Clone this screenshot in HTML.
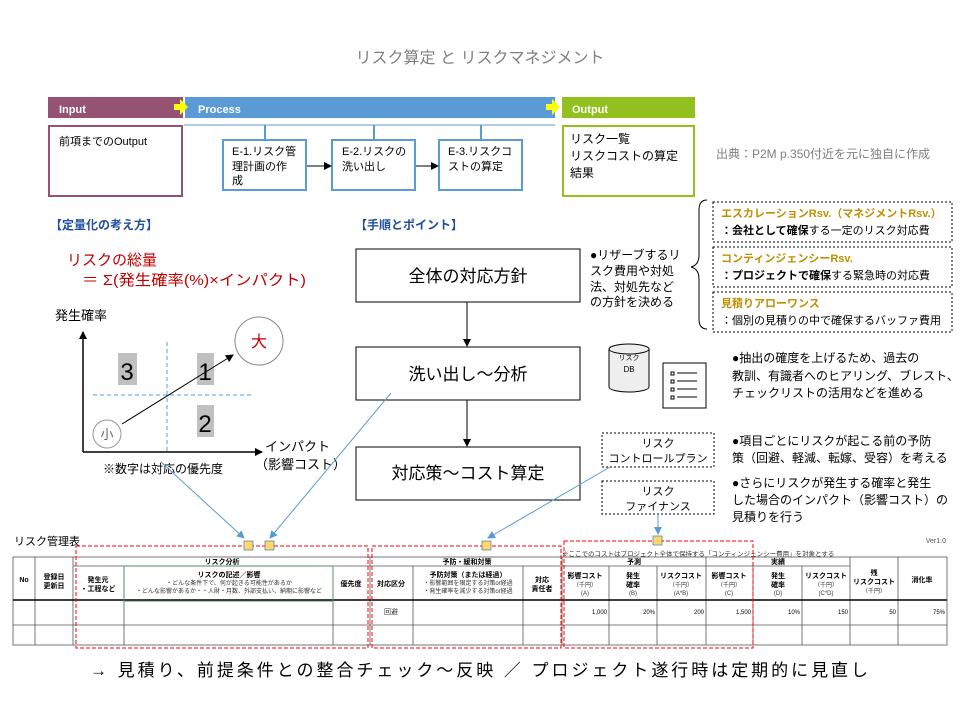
<!DOCTYPE html>
<html><head><meta charset="utf-8"><style>
body{margin:0;background:#fff}
svg{display:block;font-family:"Liberation Sans","Noto Sans CJK JP",sans-serif}
</style></head><body>
<svg width="960" height="720" viewBox="0 0 960 720" xmlns="http://www.w3.org/2000/svg">
<defs>
<marker id="ab" markerWidth="8" markerHeight="8" refX="7" refY="4" orient="auto" markerUnits="userSpaceOnUse"><path d="M0,0L8,4L0,8z" fill="#000"/></marker>
<marker id="abl" markerWidth="8" markerHeight="8" refX="7" refY="4" orient="auto" markerUnits="userSpaceOnUse"><path d="M0,0L8,4L0,8z" fill="#5b9bd5"/></marker>
</defs>
<text x="480" y="63" text-anchor="middle" font-size="16" fill="#7f7f7f">リスク算定 と リスクマネジメント</text>
<rect x="48" y="97" width="135" height="21" fill="#955273"/>
<rect x="185" y="97" width="370" height="21" fill="#5b9bd5"/>
<rect x="562" y="97" width="133" height="21" fill="#92c01f"/>
<text x="59" y="113" font-size="11" font-weight="bold" fill="#fff">Input</text>
<text x="198" y="113" font-size="11" font-weight="bold" fill="#fff">Process</text>
<text x="572" y="113" font-size="11" font-weight="bold" fill="#fff">Output</text>
<path d="M174,104h6v-5l8,8l-8,8v-5h-6z" fill="#ffff00"/>
<path d="M546,104h6v-5l8,8l-8,8v-5h-6z" fill="#ffff00"/>
<rect x="49" y="126" width="133" height="70" fill="none" stroke="#955273" stroke-width="2"/>
<text x="59" y="145" font-size="11">前項までのOutput</text>
<line x1="184" y1="125" x2="555" y2="125" stroke="#5b9bd5"/>
<line x1="265" y1="125" x2="265" y2="139" stroke="#5b9bd5" stroke-width="2"/>
<line x1="374" y1="125" x2="374" y2="139" stroke="#5b9bd5" stroke-width="2"/>
<line x1="481" y1="125" x2="481" y2="139" stroke="#5b9bd5" stroke-width="2"/>
<g fill="#fff" stroke="#5b9bd5" stroke-width="2">
<rect x="223" y="140" width="83" height="50"/><rect x="332" y="140" width="83" height="50"/><rect x="439" y="140" width="83" height="50"/></g>
<g font-size="11"><text x="232" y="155">E-1.リスク管</text><text x="232" y="170">理計画の作</text><text x="232" y="184">成</text>
<text x="342" y="155">E-2.リスクの</text><text x="342" y="170">洗い出し</text>
<text x="448" y="155">E-3.リスクコ</text><text x="448" y="170">ストの算定</text></g>
<line x1="307" y1="166" x2="331" y2="166" stroke="#000" marker-end="url(#ab)"/>
<line x1="416" y1="166" x2="438" y2="166" stroke="#000" marker-end="url(#ab)"/>
<rect x="563" y="126" width="131" height="70" fill="none" stroke="#92c01f" stroke-width="2"/>
<g font-size="12"><text x="570" y="143">リスク一覧</text><text x="570" y="160">リスクコストの算定</text><text x="570" y="177">結果</text></g>
<text x="716" y="158" font-size="12" fill="#7f7f7f">出典：P2M p.350付近を元に独自に作成</text>
<text x="50" y="229" font-size="12" font-weight="bold" fill="#1f4e9f">【定量化の考え方】</text>
<text x="355" y="229" font-size="12" font-weight="bold" fill="#1f4e9f">【手順とポイント】</text>
<text x="67" y="265" font-size="15" fill="#c00000">リスクの総量</text>
<text x="82" y="285" font-size="15" fill="#c00000" textLength="224" lengthAdjust="spacingAndGlyphs">＝ Σ(発生確率(%)×インパクト)</text>
<text x="55" y="320" font-size="13">発生確率</text>
<line x1="83" y1="452" x2="83" y2="332" stroke="#000" stroke-width="1.5" marker-end="url(#ab)"/>
<line x1="83" y1="452" x2="262" y2="452" stroke="#000" stroke-width="1.5" marker-end="url(#ab)"/>
<line x1="167" y1="342" x2="167" y2="452" stroke="#5b9bd5" stroke-dasharray="4,3"/>
<line x1="93" y1="395" x2="252" y2="395" stroke="#5b9bd5" stroke-dasharray="4,3"/>
<rect x="118" y="353" width="19" height="32" fill="#c0c0c0"/><text x="127" y="380" font-size="24" text-anchor="middle">3</text>
<rect x="197" y="353" width="17" height="32" fill="#c0c0c0"/><text x="205" y="380" font-size="24" text-anchor="middle">1</text>
<rect x="197" y="405" width="17" height="32" fill="#c0c0c0"/><text x="205" y="432" font-size="24" text-anchor="middle">2</text>
<line x1="122" y1="424" x2="233" y2="355" stroke="#000" marker-end="url(#ab)"/>
<circle cx="107" cy="434" r="14" fill="#fff" stroke="#999"/><text x="107" y="439" font-size="13" text-anchor="middle" fill="#666">小</text>
<circle cx="259" cy="341" r="24" fill="none" stroke="#888"/><text x="259" y="347" font-size="16" text-anchor="middle" fill="#c00000">大</text>
<text x="265" y="451" font-size="13">インパクト</text><text x="255" y="469" font-size="13">（影響コスト）</text>
<text x="103" y="473" font-size="12">※数字は対応の優先度</text>
<g fill="#fff" stroke="#000"><rect x="356" y="249" width="224" height="53"/><rect x="356" y="347" width="224" height="53"/><rect x="356" y="447" width="224" height="53"/></g>
<g font-size="17" text-anchor="middle"><text x="468" y="282">全体の対応方針</text><text x="468" y="380">洗い出し～分析</text><text x="468" y="479">対応策～コスト算定</text></g>
<line x1="467" y1="302" x2="467" y2="346" stroke="#000" marker-end="url(#ab)"/>
<line x1="467" y1="400" x2="467" y2="446" stroke="#000" marker-end="url(#ab)"/>
<g font-size="12"><text x="590" y="259">●リザーブするリ</text><text x="590" y="275">スク費用や対処</text><text x="590" y="291">法、対処先など</text><text x="590" y="306">の方針を決める</text></g>
<path d="M707,200 q-8,0 -8,10 v45 q0,10 -8,12 q8,2 8,12 v40 q0,10 8,10" fill="none" stroke="#000"/>
<g fill="#fff" stroke="#000" stroke-dasharray="2,2"><rect x="713" y="202" width="239" height="40"/><rect x="713" y="247" width="239" height="40"/><rect x="713" y="292" width="239" height="40"/></g>
<g font-size="11" font-weight="bold" fill="#bf8f00"><text x="721" y="217">エスカレーションRsv.（マネジメントRsv.）</text><text x="721" y="262">コンティンジェンシーRsv.</text><text x="721" y="307">見積りアローワンス</text></g>
<g font-size="11"><text x="721" y="234"><tspan font-weight="bold">：会社として確保</tspan>する一定のリスク対応費</text><text x="721" y="279"><tspan font-weight="bold">：プロジェクトで確保</tspan>する緊急時の対応費</text><text x="721" y="324">：個別の見積りの中で確保するバッファ費用</text></g>
<path d="M609,349 v38 a20,5 0 0 0 40,0 v-38" fill="#eee" stroke="#000"/>
<ellipse cx="629" cy="349" rx="20" ry="5" fill="#eee" stroke="#000"/>
<text x="629" y="360" font-size="7" text-anchor="middle">リスク</text><text x="629" y="372" font-size="8" text-anchor="middle">DB</text>
<rect x="663" y="363" width="43" height="45" fill="#fff" stroke="#000"/>
<g stroke="#000" fill="none"><rect x="671" y="372" width="3" height="3"/><rect x="671" y="380" width="3" height="3"/><rect x="671" y="388" width="3" height="3"/><rect x="671" y="396" width="3" height="3"/>
<path d="M677,373h20M677,381h20M677,389h20M677,397h20"/></g>
<g font-size="12"><text x="732" y="362">●抽出の確度を上げるため、過去の</text><text x="732" y="380">教訓、有識者へのヒアリング、ブレスト、</text><text x="732" y="397">チェックリストの活用などを進める</text></g>
<g fill="#fff" stroke="#000" stroke-dasharray="2,2"><rect x="602" y="433" width="112" height="34"/><rect x="602" y="481" width="112" height="33"/></g>
<g font-size="11" text-anchor="middle"><text x="658" y="447">リスク</text><text x="658" y="462">コントロールプラン</text><text x="658" y="495">リスク</text><text x="658" y="510">ファイナンス</text></g>
<g font-size="12"><text x="732" y="445">●項目ごとにリスクが起こる前の予防</text><text x="732" y="462">策（回避、軽減、転嫁、受容）を考える</text>
<text x="732" y="487">●さらにリスクが発生する確率と発生</text><text x="732" y="504">した場合のインパクト（影響コスト）の</text><text x="732" y="521">見積りを行う</text></g>
<g stroke="#5b9bd5"><line x1="161" y1="462" x2="244" y2="538" marker-end="url(#abl)"/><line x1="391" y1="393" x2="270" y2="538" marker-end="url(#abl)"/><line x1="610" y1="467" x2="488" y2="538" marker-end="url(#abl)"/><line x1="658" y1="514" x2="658" y2="534" marker-end="url(#abl)"/></g>
<text x="14" y="545" font-size="11">リスク管理表</text>
<text x="946" y="543" font-size="7" text-anchor="end" fill="#555">Ver1.0</text>
<text x="562" y="556" font-size="6.5" fill="#333">※ここでのコストはプロジェクト全体で保持する「コンティンジェンシー費用」を対象とする</text>
<g stroke="#555" fill="none" stroke-width="0.8">
<rect x="13" y="557" width="934" height="88"/>
<line x1="73" y1="566" x2="850" y2="566"/>
<path d="M35,557v88M73,557v88M124,566v79M333,566v79M370,557v88M413,566v79M523,566v79M562,557v88M609,566v79M657,566v79M706,557v88M753,566v79M802,566v79M850,557v88M898,557v88"/>
<line x1="13" y1="625" x2="947" y2="625"/>
</g>
<line x1="13" y1="600" x2="947" y2="600" stroke="#000" stroke-width="1.5"/>
<rect x="124" y="566" width="209" height="35" fill="none" stroke="#5a8a6a"/>
<g font-size="7" font-weight="bold" text-anchor="middle">
<text x="24" y="582">No</text><text x="54" y="579">登録日</text><text x="54" y="588">更新日</text>
<text x="222" y="564">リスク分析</text><text x="467" y="564">予防・緩和対策</text><text x="634" y="564">予測</text><text x="778" y="564">実績</text>
<text x="98" y="582">発生元</text><text x="98" y="591">・工程など</text>
<text x="229" y="577">リスクの記述／影響</text><text x="351" y="586">優先度</text>
<text x="391" y="586">対応区分</text><text x="468" y="577">予防対策（または経過）</text><text x="542" y="582">対応</text><text x="542" y="591">責任者</text>
<text x="585" y="578">影響コスト</text><text x="633" y="578">発生</text><text x="633" y="587">確率</text><text x="681" y="578">リスクコスト</text><text x="729" y="578">影響コスト</text><text x="778" y="578">発生</text><text x="778" y="587">確率</text><text x="826" y="578">リスクコスト</text><text x="874" y="575">残</text><text x="874" y="584">リスクコスト</text><text x="922" y="582">消化率</text>
</g>
<g font-size="6" text-anchor="middle" fill="#333">
<text x="229" y="585">・どんな条件下で、何が起きる可能性があるか</text><text x="229" y="593">・どんな影響があるか・・人財・月数、外部支払い、納期に影響など</text>
<text x="468" y="585">・影響範囲を限定する対策or経過</text><text x="468" y="593">・発生確率を減少する対策or経過</text>
<text x="585" y="587">（千円）</text><text x="585" y="595">(A)</text><text x="633" y="595">(B)</text><text x="681" y="587">（千円）</text><text x="681" y="595">(A*B)</text><text x="729" y="587">（千円）</text><text x="729" y="595">(C)</text><text x="778" y="595">(D)</text><text x="826" y="587">（千円）</text><text x="826" y="595">(C*D)</text><text x="874" y="593">（千円）</text>
<text x="391" y="614" font-size="7">回避</text></g>
<g font-size="6" text-anchor="end"><text x="607" y="614">1,000</text><text x="655" y="614">20%</text><text x="704" y="614">200</text><text x="751" y="614">1,500</text><text x="800" y="614">10%</text><text x="848" y="614">150</text><text x="896" y="614">50</text><text x="945" y="614">75%</text></g>
<g fill="none" stroke="#ff0000" stroke-dasharray="4,2"><rect x="76" y="546" width="292" height="102"/><rect x="372" y="546" width="189" height="102"/><rect x="564" y="541" width="189" height="107"/></g>
<g fill="#ffd966" stroke="#4472c4" stroke-width="0.7"><rect x="244" y="541" width="9" height="9"/><rect x="265" y="541" width="9" height="9"/><rect x="482" y="541" width="9" height="9"/><rect x="653" y="536" width="9" height="9"/></g>
<text x="90" y="676" font-size="17" textLength="778" lengthAdjust="spacing">→ 見積り、前提条件との整合チェック～反映 ／ プロジェクト遂行時は定期的に見直し</text>
</svg>
</body></html>
